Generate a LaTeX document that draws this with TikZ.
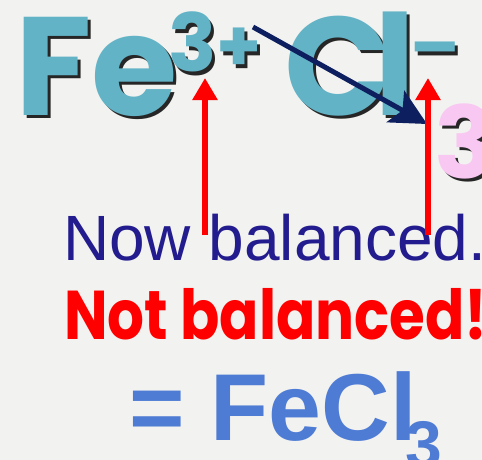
\documentclass[tikz,border=0pt]{standalone}
\usepackage{fontspec}
\setmainfont{Liberation Sans}
\newfontfamily\comicfont{Poppins}
\usetikzlibrary{arrows.meta}
\definecolor{bgpaper}{HTML}{F2F2F0}
\definecolor{ionteal}{HTML}{63B3C6}
\definecolor{subpink}{HTML}{F9C8F2}
\definecolor{arrownavy}{HTML}{0D1F5E}
\definecolor{nowblue}{HTML}{231C8E}
\definecolor{saltblue}{HTML}{4E7BD4}
\definecolor{warnred}{HTML}{FF0000}

\tikzset{
  txt/.style={anchor=base west, inner sep=0pt, outer sep=0pt},
  ionshade/.style={txt, black!85, xshift=3pt, yshift=-3pt},
  redarrow/.style={-{Triangle[length=22pt,width=24pt]}, line width=6pt, warnred},
  navyarrow/.style={-{Stealth[length=36pt,width=36pt,inset=8pt]}, line width=5pt, arrownavy}
}
% big comic-style text with a drop shadow
\newcommand\shadowed[4]{%
  \node[ionshade] at (#2) {#4};
  \node[txt, #3] (#1) at (#2) {#4};}
\newcommand\comicsize[1]{\comicfont\bfseries\fontsize{#1}{#1}\selectfont}

\begin{document}
\begin{tikzpicture}[x=1pt, y=-1pt]
  \fill[bgpaper] (0,0) rectangle (482,460);
  \useasboundingbox (0,0) rectangle (482,460);
  % the ions
  \shadowed{fe}{15,115}{ionteal}{\comicsize{140}Fe}
  \shadowed{fecharge}{168,72}{ionteal}{\comicsize{80}3\scalebox{0.9}{+}}
  \shadowed{cl}{284,115}{ionteal}{\comicsize{140}C\kern-16pt l}
  \shadowed{clcharge}{410,72}{ionteal}{\comicsize{70}\scalebox{1.3}[1]{-}}
  \shadowed{clcount}{434,178}{subpink}{\comicsize{100}3}
  % captions
  \node[txt, nowblue] (now) at (63,260) {\fontsize{64}{64}\selectfont Now balanced.};
  \node[txt, warnred] (notbal) at (64,339) {\scalebox{0.84}[1]{\comicsize{69}Not balanced!}};
  \node[txt, saltblue] (salt) at (129,440) {\bfseries\fontsize{95}{95}\selectfont = FeCl};
  \node[txt, saltblue] (saltsub) at (405,467) {\bfseries\fontsize{66}{66}\selectfont 3};
  % crossing arrow
  \coordinate (crossfrom) at (253,27);
  \coordinate (crossto) at (427,124);
  \draw[navyarrow] (crossfrom) -- (crossto);
  % charge arrows
  \coordinate (fefoot) at (205,235);
  \coordinate (fetip) at (205,78);
  \coordinate (clfoot) at (428,235);
  \coordinate (cltip) at (428,78);
  \draw[redarrow] (fefoot) -- (fetip);
  \draw[redarrow] (clfoot) -- (cltip);
\end{tikzpicture}
\end{document}
